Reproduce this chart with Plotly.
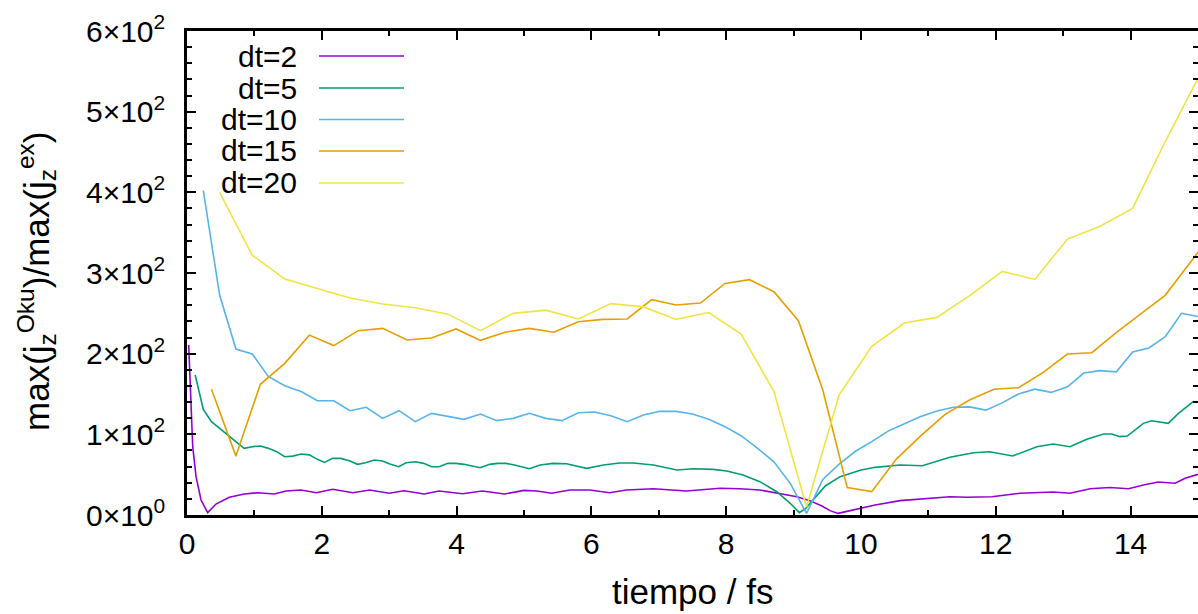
import plotly.graph_objects as go

# ---------------- data ----------------
labels = ["dt=2", "dt=5", "dt=10", "dt=15", "dt=20"]
colors = ["#9400d3", "#009e73", "#56b4e9", "#e69f00", "#f0e442"]

# dt=2 (purple)
t2 = [0.025, 0.085, 0.134, 0.208, 0.307, 0.43, 0.628, 0.85, 1.05, 1.295, 1.47, 1.69, 1.92,
      2.16, 2.46, 2.71, 3.0, 3.22, 3.52, 3.74, 4.09, 4.38, 4.71, 5.0, 5.19, 5.41, 5.68,
      5.98, 6.27, 6.52, 6.92, 7.41, 7.91, 8.20, 8.50, 8.80, 9.05, 9.24, 9.42, 9.54, 9.66,
      9.84, 10.21, 10.58, 10.95, 11.32, 11.57, 11.94, 12.36, 12.61, 12.85, 13.10, 13.40,
      13.69, 13.97, 14.19, 14.41, 14.66, 14.81, 15.0]
y2 = [210.7, 84.7, 47.5, 18.6, 2.9, 13.6, 21.9, 26, 27.6, 26, 29.7, 31, 27.6,
      31.9, 27.6, 31, 26.9, 30, 26, 29.7, 26.4, 29.7, 26, 30.5, 29.7, 26.9, 31,
      31, 27.6, 31, 32.6, 29.7, 33.1, 32.6, 31, 26.9, 22.7, 17.8, 11.2, 5.4, 2,
      5.4, 12.4, 17.8, 20.7, 22.7, 22, 22.7, 26.9, 28, 28.5, 26.9, 32.6,
      34, 32.6, 37.2, 40.9, 39.3, 45.5, 50.4]

# dt=5 (green)
t5 = [0.121, 0.242, 0.363, 0.484, 0.605, 0.726, 0.847, 0.968, 1.089, 1.21, 1.33, 1.45,
      1.57, 1.69, 1.815, 1.935, 2.04, 2.16, 2.28, 2.41, 2.53, 2.65, 2.78, 2.90, 3.01,
      3.14, 3.25, 3.39, 3.51, 3.63, 3.74, 3.87, 3.99, 4.11, 4.35, 4.49, 4.61, 4.73, 4.86,
      5.08, 5.24, 5.43, 5.63, 5.93, 6.18, 6.42, 6.62, 6.92, 7.27, 7.51, 7.81, 8.01, 8.25,
      8.50, 8.75, 8.95, 9.085, 9.18, 9.29, 9.47, 9.69, 9.84, 10.0, 10.21, 10.58, 10.91,
      11.32, 11.67, 11.91, 12.25, 12.61, 12.85, 13.10, 13.35, 13.60, 13.72, 13.84, 13.95,
      14.19, 14.31, 14.56, 14.71, 14.93, 15.0]
y5 = [173.5, 131, 115.7, 107.4, 99, 90.9, 82.6, 84.7, 85.5, 82.6, 78.5, 72.3,
      73, 75.6, 74.5, 69, 65.2, 70.2, 70.2, 67.3, 62.8, 64.8, 68.2, 67, 63.2,
      59.9, 64.8, 66, 64, 59.9, 59.9, 64, 64, 62.8, 58.6, 62.8, 64, 64, 62,
      57.4, 62, 64, 63.5, 57.8, 62, 64.5, 64.5, 62, 55.8, 57.4, 56.6, 54.5, 49.6,
      41.3, 28.9, 14.5, 2.9, 8.3, 18.6, 36, 47.5, 51.7, 55.8, 59.1, 62, 61.1,
      71.5, 77.2, 78.5, 73.1, 84.7, 88, 84.7, 93.8, 100.4, 100.4, 97.1, 97.9,
      113.6, 116.9, 113.6, 126, 140.5, 140]

# dt=10 (light blue), step 0.2419 fs
t10 = [0.242, 0.484, 0.726, 0.968, 1.209, 1.451, 1.693, 1.935, 2.177, 2.419, 2.661, 2.903,
       3.145, 3.387, 3.628, 3.870, 4.112, 4.354, 4.596, 4.838, 5.080, 5.322, 5.564, 5.806,
       6.047, 6.289, 6.531, 6.773, 7.015, 7.257, 7.499, 7.741, 7.983, 8.225, 8.467, 8.708,
       8.950, 9.192, 9.434, 9.676, 9.918, 10.160, 10.402, 10.644, 10.886, 11.128, 11.370,
       11.611, 11.853, 12.095, 12.337, 12.579, 12.821, 13.063, 13.305, 13.547, 13.789,
       14.030, 14.272, 14.514, 14.756, 14.998]
y10 = [402, 272.7, 205.8, 199.6, 171.5, 160.3, 153, 141.7, 141.7, 129.3, 133.5, 119.8,
       129.3, 115.7, 126, 121.9, 118.6, 125.2, 117, 119.8, 126, 119.8, 117, 126.8,
       127.7, 123, 115.7, 124, 128.5, 128.5, 125.2, 118.6, 109.5, 98, 82.6, 66,
       39.2, 2, 44, 63, 79, 91, 104, 113, 122, 129, 133.5,
       134, 130, 139, 150, 156, 152, 159, 176, 179, 177.5,
       202, 207, 221, 250, 246]

# dt=15 (orange), step 0.3628 fs
t15 = [0.363, 0.726, 1.088, 1.451, 1.814, 2.177, 2.540, 2.903, 3.265, 3.628, 3.991, 4.354,
       4.717, 5.080, 5.442, 5.805, 6.168, 6.531, 6.894, 7.256, 7.619, 7.982, 8.345, 8.708,
       9.071, 9.433, 9.796, 10.159, 10.522, 10.885, 11.248, 11.610, 11.973, 12.336, 12.699,
       13.062, 13.424, 13.787, 14.150, 14.513, 14.876, 15.239]
y15 = [156, 73, 162, 188, 223, 210, 228.5, 231.4, 217, 219.4, 230.6, 216.5,
       226.5, 231.4, 226.5, 239.6, 242.5, 243, 267, 260.3, 262.8, 287, 291.7, 276.8,
       240.9, 155, 34, 29, 69, 98, 124.8, 142.6, 155.8, 157.8, 176.4,
       199.6, 201.2, 226, 249.2, 272.3, 312, 352]

# dt=20 (yellow), step 0.4838 fs
t20 = [0.484, 0.968, 1.451, 1.935, 2.419, 2.903, 3.387, 3.870, 4.354, 4.838, 5.322, 5.806,
       6.289, 6.773, 7.257, 7.741, 8.225, 8.708, 9.192, 9.676, 10.160, 10.644, 11.128,
       11.611, 12.095, 12.579, 13.063, 13.547, 14.030, 14.514, 14.998]
y20 = [400, 322, 292.5, 280.5, 269, 261.5, 257, 249, 228.5, 250, 254, 243,
       262, 258, 242.5, 251, 224, 153, 10, 149, 209, 238, 245,
       272, 302, 292, 342, 358, 380, 463, 541]

xticks = [0, 2, 4, 6, 8, 10, 12, 14]
yticks = [0, 100, 200, 300, 400, 500, 600]
yticktext = ["0×10<sup>0</sup>", "1×10<sup>2</sup>", "2×10<sup>2</sup>", "3×10<sup>2</sup>",
             "4×10<sup>2</sup>", "5×10<sup>2</sup>", "6×10<sup>2</sup>"]
xtitle = "tiempo / fs"
ytitle = "max(j<sub>z</sub><sup>Oku</sup>)/max(j<sub>z</sub><sup>ex</sup>)"

# ---------------- figure ----------------
W, H = 1198, 614
L, R, T, B = 187, 1198, 31, 515
FONT = "Liberation Sans, Arial, sans-serif"
FS = 30
FT = 35

series = [(t2, y2), (t5, y5), (t10, y10), (t15, y15), (t20, y20)]
fig = go.Figure()
for (tx, ty), name, col in zip(series, labels, colors):
    fig.add_trace(go.Scatter(x=tx, y=ty, mode="lines", name=name,
                             line=dict(color=col, width=1.6), showlegend=False))

def px_x(p):
    return (p - L) / (R - L)

def px_y(p):
    return (B - p) / (B - T)

# gnuplot-style key: right-aligned text, line sample to its right
key_rows = [56, 88, 119.5, 151, 183]
for name, col, ry in zip(labels, colors, key_rows):
    fig.add_annotation(x=px_x(299), y=px_y(ry), xref="paper", yref="paper", text=name,
                       showarrow=False, xanchor="right", yanchor="middle",
                       font=dict(family=FONT, size=FS, color="black"))
    fig.add_shape(type="line", xref="paper", yref="paper",
                  x0=px_x(319), x1=px_x(404), y0=px_y(ry), y1=px_y(ry),
                  line=dict(color=col, width=1.6))

# axis titles
fig.add_annotation(x=px_x(692), y=px_y(613), xref="paper", yref="paper", text=xtitle,
                   showarrow=False, xanchor="center", yanchor="bottom",
                   font=dict(family=FONT, size=FT, color="black"))
fig.add_annotation(x=px_x(36), y=px_y(282), xref="paper", yref="paper", text=ytitle,
                   showarrow=False, xanchor="center", yanchor="middle", textangle=-90,
                   font=dict(family=FONT, size=FT, color="black"))

axis_common = dict(showline=True, linecolor="black", linewidth=2.5, mirror="allticks",
                   ticks="inside", ticklen=9, tickwidth=1.5, tickcolor="black",
                   showgrid=False, zeroline=False,
                   tickfont=dict(family=FONT, size=FS, color="black"))

fig.update_xaxes(range=[0, 15], tickvals=xticks, ticklabelstandoff=0,
                 minor=dict(dtick=1, tick0=0, ticks="inside", ticklen=5, tickcolor="black", tickwidth=1.5),
                 **axis_common)
fig.update_yaxes(range=[0, 600], tickvals=yticks, ticktext=yticktext, ticklabelstandoff=13,
                 minor=dict(dtick=20, tick0=0, ticks="inside", ticklen=5, tickcolor="black", tickwidth=1.5),
                 **axis_common)

fig.update_layout(width=W, height=H, margin=dict(l=L, r=W - R, t=T, b=H - B, autoexpand=False),
                  paper_bgcolor="white", plot_bgcolor="white", showlegend=False,
                  font=dict(family=FONT, size=FS, color="black"))

fig.write_html("out.html")
